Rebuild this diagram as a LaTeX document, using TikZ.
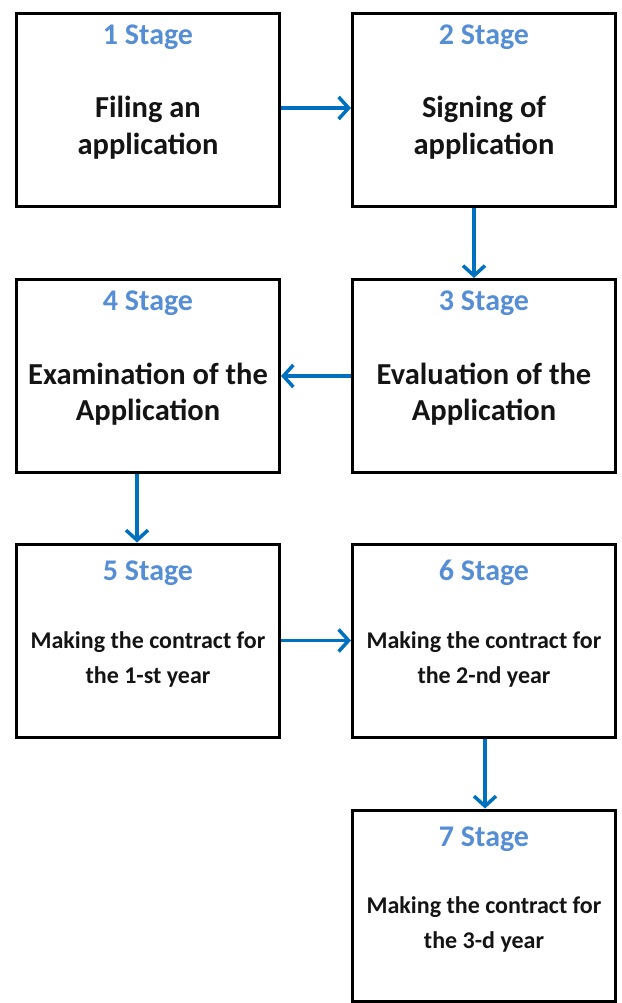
\documentclass[tikz,border=0pt]{standalone}
\usepackage{fontspec}
\setmainfont{Carlito}
\usetikzlibrary{arrows.meta}
\definecolor{stageblue}{HTML}{558ED5}
\definecolor{arrowblue}{HTML}{0070C0}
\definecolor{txtcol}{HTML}{141414}
\begin{document}
\begin{tikzpicture}[x=1pt,y=-1pt,
  box/.style={draw=black, line width=3pt, rectangle, minimum width=263pt, minimum height=193pt, inner sep=0pt},
  stagelbl/.style={anchor=base, inner sep=0pt, text=stageblue, font=\bfseries\fontsize{30}{36}\selectfont},
  bigtxt/.style={anchor=base, inner sep=0pt, text=txtcol, font=\bfseries\fontsize{30.5}{36}\selectfont},
  smalltxt/.style={anchor=base, inner sep=0pt, text=txtcol, font=\bfseries\fontsize{24}{30}\selectfont},
  flow/.style={draw=arrowblue, line width=3.5pt, -{Straight Barb[length=10pt,width=22pt,line width=3.5pt]}}]
\useasboundingbox (0,0) rectangle (621,1003);
% boxes
\node[box] (b1) at (148,110) {};
\node[box] (b2) at (484,110) {};
\node[box] (b3) at (484,376) {};
\node[box] (b4) at (148,376) {};
\node[box] (b5) at (148,640.5) {};
\node[box] (b6) at (484,640.5) {};
\node[box, minimum height=191pt] (b7) at (484,905.5) {};
% texts
\node[stagelbl] (s1) at (148,45) {1 Stage};
\node[bigtxt] (t1a) at (148,118) {Filing an};
\node[bigtxt] (t1b) at (148,155) {application};
\node[stagelbl] (s2) at (484,45) {2 Stage};
\node[bigtxt] (t2a) at (484,118) {Signing of};
\node[bigtxt] (t2b) at (484,155) {application};
\node[stagelbl] (s3) at (484,310) {3 Stage};
\node[bigtxt] (t3a) at (484,384) {Evaluation of the};
\node[bigtxt] (t3b) at (484,420) {Application};
\node[stagelbl] (s4) at (148,310) {4 Stage};
\node[bigtxt] (t4a) at (148,384) {Examination of the};
\node[bigtxt] (t4b) at (148,420) {Application};
\node[stagelbl] (s5) at (148,580) {5 Stage};
\node[smalltxt] (t5a) at (148,648) {Making the contract for};
\node[smalltxt] (t5b) at (148,683) {the 1-st year};
\node[stagelbl] (s6) at (484,580) {6 Stage};
\node[smalltxt] (t6a) at (484,648) {Making the contract for};
\node[smalltxt] (t6b) at (484,683) {the 2-nd year};
\node[stagelbl] (s7) at (484,846) {7 Stage};
\node[smalltxt] (t7a) at (484,913) {Making the contract for};
\node[smalltxt] (t7b) at (484,948) {the 3-d year};
% connectors
\draw[flow] ([yshift=2pt]b1.east) -- ([yshift=2pt]b2.west);
\draw[flow] ([xshift=-10pt]b2.south) -- ([xshift=-10pt]b3.north);
\draw[flow] (b3.west) -- (b4.east);
\draw[flow] ([xshift=-11pt]b4.south) -- ([xshift=-11pt]b5.north);
\draw[flow] (b5.east) -- (b6.west);
\draw[flow] ([xshift=1pt]b6.south) -- ([xshift=1pt]b7.north);
\end{tikzpicture}
\end{document}
